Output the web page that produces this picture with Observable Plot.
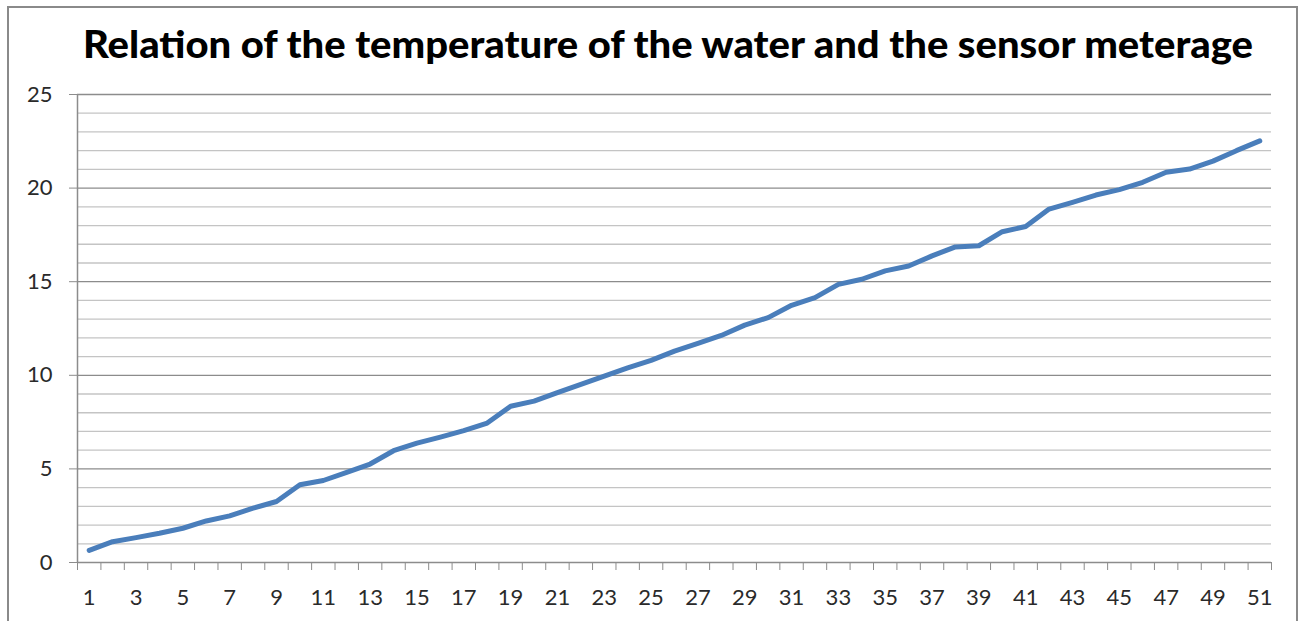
<!DOCTYPE html>
<html>
<head>
<meta charset="utf-8">
<script src="https://cdn.jsdelivr.net/npm/d3@7"></script>
<script src="https://cdn.jsdelivr.net/npm/@observablehq/plot@0.6"></script>
<style>
  html, body { margin: 0; padding: 0; background: #fff; }
  #page { position: relative; width: 1306px; height: 621px; overflow: hidden; background: #fff; }
  #frame { position: absolute; left: 7px; top: 6px; width: 1291px; height: 700px; border: 2px solid #8a8a8a; box-sizing: border-box; }
  #title { position: absolute; top: 24px; left: 0; white-space: nowrap; font-family: Lato, "Open Sans", sans-serif; font-weight: 900; font-size: 38px; color: #000; transform-origin: 0 0; line-height: 1; }
  #chart { position: absolute; left: 0; top: 70px; }
  #chart svg { font-family: Lato, "Open Sans", sans-serif; }
</style>
</head>
<body>
<div id="page">
  <div id="frame"></div>
  <div id="title">Relation of the temperature of the water and the sensor meterage</div>
  <div id="chart"></div>
</div>
<script>
// Data
const categories = d3.range(1, 52);
const values = [
  0.65, 1.11, 1.33, 1.56, 1.83, 2.22, 2.49, 2.90, 3.26, 4.15,
  4.38, 4.81, 5.26, 5.97, 6.38, 6.70, 7.04, 7.45, 8.35, 8.62,
  9.07, 9.51, 9.96, 10.40, 10.80, 11.29, 11.70, 12.13, 12.68, 13.08,
  13.74, 14.15, 14.86, 15.13, 15.58, 15.84, 16.38, 16.86, 16.92, 17.67,
  17.95, 18.88, 19.24, 19.63, 19.92, 20.31, 20.85, 21.02, 21.44, 22.00,
  22.52
];
const xTickLabels = categories.filter(c => c % 2 === 1);
const yMajorTicks = [0, 5, 10, 15, 20, 25];
const yMinorTicks = d3.range(0, 26).filter(v => v % 5 !== 0);

const data = categories.map((c, i) => ({ cat: c, value: values[i] }));
const boundaries = categories.map(c => c - 0.5).concat([categories[categories.length - 1] + 0.5]);

const chart = Plot.plot({
  width: 1306,
  height: 550,
  marginLeft: 77,
  marginRight: 35,
  marginTop: 24,
  marginBottom: 58,
  style: { fontSize: "22px", color: "#2a2a2a", background: "transparent" },
  x: { type: "linear", domain: [0.5, 51.5] },
  y: { domain: [0, 25] },
  marks: [
    Plot.ruleY(yMinorTicks, { stroke: "#c4c4c4", strokeWidth: 1.3 }),
    Plot.ruleY(yMajorTicks, { stroke: "#8c8c8c", strokeWidth: 1.3, x1: 0.5, x2: 51.5 }),
    Plot.ruleX([0.5], { stroke: "#8c8c8c", strokeWidth: 1.5 }),
    Plot.axisY({ ticks: yMajorTicks, tickSize: 8, tickPadding: 17, stroke: "#8c8c8c", fill: "#2a2a2a", fontSize: 22, label: null, tickFormat: d => String(d) }),
    Plot.axisX({ ticks: boundaries, tickSize: 8, stroke: "#8c8c8c", tickFormat: () => "", label: null }),
    Plot.axisX({ ticks: xTickLabels, tickSize: 0, tickPadding: 27, fill: "#2a2a2a", fontSize: 22, label: null, tickFormat: d => String(d) }),
    Plot.line(data, { x: "cat", y: "value", stroke: "#4a7ebb", strokeWidth: 5, strokeLinejoin: "round", strokeLinecap: "round" })
  ]
});
document.getElementById("chart").appendChild(chart);

// Fit title to reference width, centered at x ~ 668
const title = document.getElementById("title");
const w = title.getBoundingClientRect().width;
const targetW = 1170;
const sx = targetW / w;
title.style.left = (668 - targetW / 2) + "px";
title.style.transform = `scaleX(${sx})`;
</script>
</body>
</html>
